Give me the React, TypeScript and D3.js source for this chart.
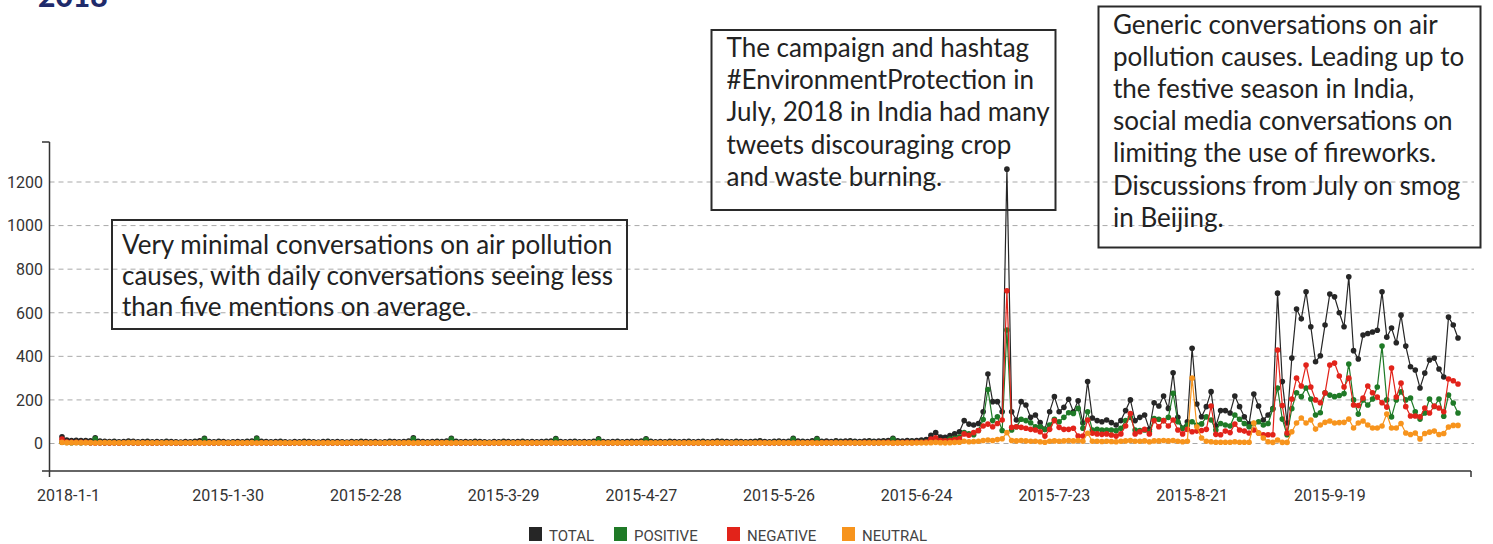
import React from 'react';
import * as d3 from 'd3';

// daily mention counts, starting 2014-12-26
const startDay = '2014-12-26';

const total = [
  31, 16, 14, 15, 13, 14, 12, 26, 11, 10, 9, 10, 8, 9, 11, 10, 8, 9, 10, 8,
  9, 8, 10, 9, 8, 7, 9, 8, 10, 12, 24, 9, 8, 10, 9, 7, 8, 9, 8, 10,
  11, 25, 10, 9, 8, 9, 10, 8, 7, 9, 8, 10, 9, 8, 7, 9, 10, 8, 9, 8,
  7, 9, 8, 10, 9, 8, 9, 7, 8, 10, 9, 8, 9, 11, 26, 10, 9, 8, 9, 10,
  9, 11, 24, 10, 8, 9, 8, 10, 9, 8, 7, 9, 8, 10, 9, 8, 9, 10, 8, 9,
  8, 9, 10, 11, 23, 9, 8, 9, 10, 8, 9, 8, 10, 22, 9, 8, 9, 10, 8, 9,
  10, 9, 11, 22, 10, 8, 9, 8, 10, 9, 8, 9, 10, 8, 9, 10, 8, 9, 11, 10,
  9, 8, 10, 9, 8, 9, 10, 12, 9, 8, 10, 11, 9, 10, 24, 11, 10, 9, 12, 23,
  10, 11, 9, 12, 10, 11, 12, 10, 9, 11, 12, 10, 11, 12, 13, 24, 12, 11, 13, 12,
  14, 16, 18,
  38, 50, 30, 28, 36, 44, 54, 105, 89, 85,
  92, 146, 319, 192, 192, 146, 1259, 146, 108, 192,
  177, 120, 131, 96, 65, 146, 215, 146, 166, 203,
  146, 196, 94, 284, 117, 105, 100, 108, 96, 85,
  105, 151, 200, 105, 120, 131, 65, 187, 172, 218,
  161, 325, 120, 70, 100, 437, 181, 123, 169, 238,
  80, 151, 151, 140, 218, 169, 123, 90, 227, 172,
  108, 131, 160, 690, 284, 94, 392, 617, 572, 696,
  536, 375, 403, 544, 686, 673, 600, 536, 765, 426,
  388, 498, 505, 512, 520, 696, 488, 530, 462, 589,
  447, 352, 337, 255, 323, 383, 392, 342, 305, 580,
  544, 484,
];

const positive = [
  6, 5, 4, 5, 4, 5, 4, 22, 4, 3, 3, 4, 3, 3, 4, 3, 3, 3, 4, 3,
  3, 3, 4, 3, 3, 2, 3, 3, 4, 4, 20, 3, 3, 4, 3, 2, 3, 3, 3, 4,
  4, 21, 4, 3, 3, 3, 4, 3, 2, 3, 3, 4, 3, 3, 2, 3, 4, 3, 3, 3,
  2, 3, 3, 4, 3, 3, 3, 2, 3, 4, 3, 3, 3, 4, 22, 4, 3, 3, 3, 4,
  3, 4, 20, 4, 3, 3, 3, 4, 3, 3, 2, 3, 3, 4, 3, 3, 3, 4, 3, 3,
  3, 3, 4, 4, 19, 3, 3, 3, 4, 3, 3, 3, 4, 18, 3, 3, 3, 4, 3, 3,
  4, 3, 4, 18, 4, 3, 3, 3, 4, 3, 3, 3, 4, 3, 3, 4, 3, 3, 4, 4,
  3, 3, 4, 3, 3, 3, 4, 5, 3, 3, 4, 4, 3, 4, 20, 4, 4, 3, 5, 19,
  4, 4, 3, 5, 4, 4, 5, 4, 3, 4, 5, 4, 4, 5, 5, 20, 5, 4, 5, 5,
  6, 7, 8,
  14, 22, 12, 14, 20, 24, 30, 50, 45, 40,
  60, 110, 248, 105, 123, 60, 521, 62, 77, 111,
  105, 95, 77, 77, 65, 85, 111, 100, 120, 141,
  138, 161, 70, 146, 62, 65, 62, 62, 62, 59,
  70, 105, 120, 62, 60, 62, 54, 115, 111, 105,
  120, 230, 100, 70, 85, 100, 85, 90, 122, 108,
  62, 92, 85, 80, 131, 111, 92, 77, 92, 100,
  85, 92, 158, 255, 112, 40, 160, 233, 215, 255,
  204, 131, 141, 233, 222, 215, 220, 229, 365, 200,
  135, 200, 177, 204, 259, 447, 200, 122, 200, 237,
  200, 209, 146, 112, 140, 204, 170, 204, 125, 222,
  186, 140,
];

const negative = [
  20, 7, 6, 6, 5, 5, 4, 2, 3, 3, 2, 3, 2, 3, 3, 3, 2, 3, 3, 2,
  3, 2, 3, 3, 2, 2, 3, 2, 3, 4, 2, 3, 2, 3, 3, 2, 2, 3, 2, 3,
  3, 2, 3, 3, 2, 3, 3, 2, 2, 3, 2, 3, 3, 2, 2, 3, 3, 2, 3, 2,
  2, 3, 2, 3, 3, 2, 3, 2, 2, 3, 3, 2, 3, 3, 2, 3, 3, 2, 3, 3,
  3, 3, 2, 3, 2, 3, 2, 3, 3, 2, 2, 3, 2, 3, 3, 2, 3, 3, 2, 3,
  2, 3, 3, 3, 2, 3, 2, 3, 3, 2, 3, 2, 3, 2, 3, 2, 3, 3, 2, 3,
  3, 3, 3, 2, 3, 2, 3, 2, 3, 3, 2, 3, 3, 2, 3, 3, 2, 3, 3, 3,
  3, 2, 3, 3, 2, 3, 3, 4, 3, 2, 3, 3, 3, 3, 2, 4, 3, 3, 4, 2,
  3, 4, 3, 4, 3, 4, 4, 3, 3, 4, 4, 3, 4, 4, 5, 2, 4, 4, 5, 4,
  5, 6, 7,
  20, 26, 14, 12, 14, 18, 22, 44, 38, 50,
  60, 80, 89, 77, 92, 108, 701, 74, 77, 74,
  70, 65, 62, 54, 34, 65, 105, 74, 65, 65,
  70, 34, 34, 108, 47, 44, 42, 44, 39, 34,
  44, 80, 138, 44, 54, 65, 44, 105, 77, 105,
  80, 108, 62, 44, 65, 54, 57, 60, 65, 172,
  42, 40, 57, 50, 89, 62, 57, 48, 62, 48,
  40, 40, 40, 429, 174, 48, 204, 300, 264, 360,
  259, 200, 187, 232, 360, 369, 310, 259, 300, 177,
  174, 209, 264, 233, 213, 187, 167, 346, 213, 277,
  169, 126, 126, 122, 163, 140, 172, 163, 146, 296,
  288, 273,
];

const neutral = [
  5, 4, 4, 4, 4, 4, 4, 2, 4, 4, 4, 3, 3, 3, 4, 4, 3, 3, 3, 3,
  3, 3, 3, 3, 3, 3, 3, 3, 3, 4, 2, 3, 3, 3, 3, 3, 3, 3, 3, 3,
  4, 2, 3, 3, 3, 3, 3, 3, 3, 3, 3, 3, 3, 3, 3, 3, 3, 3, 3, 3,
  3, 3, 3, 3, 3, 3, 3, 3, 3, 3, 3, 3, 3, 4, 2, 3, 3, 3, 3, 3,
  3, 4, 2, 3, 3, 3, 3, 3, 3, 3, 3, 3, 3, 3, 3, 3, 3, 3, 3, 3,
  3, 3, 3, 4, 2, 3, 3, 3, 3, 3, 3, 3, 3, 2, 3, 3, 3, 3, 3, 3,
  3, 3, 4, 2, 3, 3, 3, 3, 3, 3, 3, 3, 3, 3, 3, 3, 3, 3, 4, 3,
  3, 3, 3, 3, 3, 3, 3, 3, 3, 3, 3, 4, 3, 3, 2, 3, 3, 3, 3, 2,
  3, 3, 3, 3, 3, 3, 3, 3, 3, 3, 3, 3, 3, 3, 3, 2, 3, 3, 3, 3,
  3, 3, 3,
  4, 5, 4, 3, 4, 5, 6, 10, 8, 9,
  10, 14, 16, 14, 18, 22, 50, 14, 12, 14,
  12, 10, 10, 8, 6, 10, 12, 10, 12, 14,
  12, 14, 10, 47, 10, 10, 9, 10, 9, 8,
  10, 12, 14, 10, 10, 12, 8, 12, 12, 14,
  12, 14, 10, 8, 10, 300, 77, 25, 10, 8,
  6, 6, 6, 6, 8, 6, 6, 6, 94, 48,
  25, 8, 5, 16, 5, 5, 54, 94, 117, 94,
  108, 66, 85, 97, 103, 94, 96, 97, 112, 71,
  94, 103, 85, 71, 71, 80, 135, 71, 71, 92,
  48, 41, 48, 21, 46, 52, 57, 41, 46, 76,
  83, 83,
];

const seriesNames = ['TOTAL', 'POSITIVE', 'NEGATIVE', 'NEUTRAL'];
const seriesColors = ['#262626', '#1f7a27', '#e2231a', '#f7941d'];

const tickDates = [
  '2015-01-01', '2015-01-30', '2015-02-28', '2015-03-29', '2015-04-27',
  '2015-05-26', '2015-06-24', '2015-07-23', '2015-08-21', '2015-09-19',
];
const tickLabels = [
  '2018-1-1', '2015-1-30', '2015-2-28', '2015-3-29', '2015-4-27',
  '2015-5-26', '2015-6-24', '2015-7-23', '2015-8-21', '2015-9-19',
];
const yTicks = [0, 200, 400, 600, 800, 1000, 1200];

const notes = [
  {
    x: 112, y: 220, w: 515, h: 109, pad: 10, top: 33.5, gap: 31.2,
    lines: [
      'Very minimal conversations on air pollution',
      'causes, with daily conversations seeing less',
      'than five mentions on average.',
    ],
  },
  {
    x: 711.5, y: 30, w: 344, h: 180, pad: 15, top: 27, gap: 32.2,
    lines: [
      'The campaign and hashtag',
      '#EnvironmentProtection in',
      'July, 2018 in India had many',
      'tweets discouraging crop',
      'and waste burning.',
    ],
  },
  {
    x: 1098.5, y: 6.5, w: 382, h: 241, pad: 14.5, top: 27, gap: 32.2,
    lines: [
      'Generic conversations on air',
      'pollution causes. Leading up to',
      'the festive season in India,',
      'social media conversations on',
      'limiting the use of fireworks.',
      'Discussions from July on smog',
      'in Beijing.',
    ],
  },
];

const W = 1493;
const H = 544;
const axisLeft = 49.5;
const axisRight = 1471;
const axisBottom = 471;
const axisTop = 142;

const App = () => {
  const parse = d3.utcParse('%Y-%m-%d');
  const start = parse(startDay) as Date;
  const n = total.length;
  const dates = d3.range(n).map((i) => d3.utcDay.offset(start, i));

  const x = d3.scaleUtc().domain([dates[0], dates[n - 1]]).range([62, 1458]);
  const y = d3.scaleLinear().domain([0, 1200]).range([443.5, 182]);

  const series = [total, positive, negative, neutral];
  const line = d3
    .line<number>()
    .x((_, i) => x(dates[i]))
    .y((d) => y(d));

  const textFont = 'Lato, "Open Sans", sans-serif';
  const tickFont = 'Roboto, "Liberation Sans", sans-serif';

  return (
    <svg width={W} height={H} style={{ position: 'absolute', left: 0, top: 0, background: '#fff' }}>
      {/* cut-off title */}
      <text x={38} y={7} fontFamily={textFont} fontWeight={900} fontSize={30} fill="#1f2b6b">
        2018
      </text>

      {/* grid */}
      {yTicks.map((t) => (
        <line
          key={t}
          x1={axisLeft}
          x2={1474}
          y1={y(t)}
          y2={y(t)}
          stroke="#a9a9a9"
          strokeWidth={1}
          strokeDasharray="5,4"
        />
      ))}

      {/* y axis */}
      <line x1={axisLeft} x2={axisLeft} y1={axisTop} y2={axisBottom + 6} stroke="#333" strokeWidth={1.5} />
      <line x1={42} x2={axisLeft} y1={axisTop} y2={axisTop} stroke="#333" strokeWidth={1.5} />
      {yTicks.map((t) => (
        <text
          key={t}
          x={43}
          y={y(t)}
          dy="0.36em"
          textAnchor="end"
          fontFamily={tickFont}
          fontSize={16}
          fill="#333"
        >
          {t}
        </text>
      ))}

      {/* x axis */}
      <line x1={42} x2={axisRight} y1={axisBottom} y2={axisBottom} stroke="#333" strokeWidth={1.5} />
      <line x1={axisRight} x2={axisRight} y1={axisBottom} y2={axisBottom + 6} stroke="#333" strokeWidth={1.5} />
      {tickDates.map((d, i) => (
        <text
          key={d}
          x={x(parse(d) as Date)}
          dx={i === 0 ? -22 : 0}
          y={501}
          textAnchor="middle"
          fontFamily={tickFont}
          fontSize={16}
          fill="#333"
        >
          {tickLabels[i]}
        </text>
      ))}

      {/* series */}
      {series.map((vals, s) => (
        <g key={seriesNames[s]}>
          <path d={line(vals) || ''} fill="none" stroke={seriesColors[s]} strokeWidth={1.2} />
          {vals.map((v, i) => (
            <circle key={i} cx={x(dates[i])} cy={y(v)} r={2.8} fill={seriesColors[s]} />
          ))}
        </g>
      ))}

      {/* annotation boxes */}
      {notes.map((nt, k) => (
        <g key={k}>
          <rect x={nt.x} y={nt.y} width={nt.w} height={nt.h} fill="none" stroke="#2a2a2a" strokeWidth={2} />
          {nt.lines.map((ln, j) => (
            <text
              key={j}
              x={nt.x + nt.pad}
              y={nt.y + nt.top + j * nt.gap}
              fontFamily={textFont}
              fontSize={26}
              fill="#222"
            >
              {ln}
            </text>
          ))}
        </g>
      ))}

      {/* legend */}
      {seriesNames.map((name, i) => {
        const lx = [529, 614, 727, 842][i];
        return (
          <g key={name}>
            <rect x={lx} y={527} width={13} height={14} fill={seriesColors[i]} />
            <text x={lx + 20} y={541} fontFamily={tickFont} fontSize={15} fill="#444">
              {name}
            </text>
          </g>
        );
      })}
    </svg>
  );
};

export default App;
